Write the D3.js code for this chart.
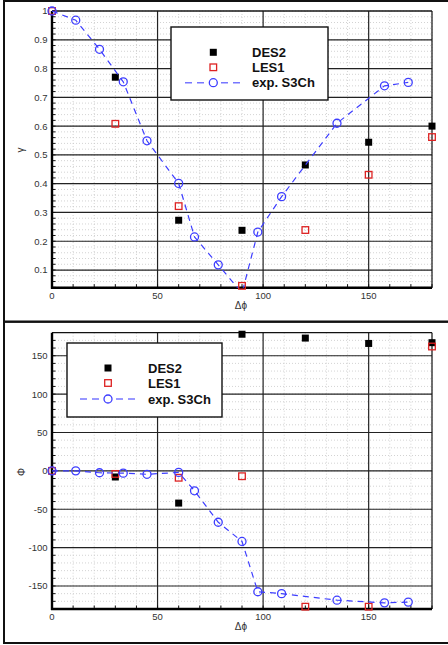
<!DOCTYPE html>
<html>
<head>
<meta charset="utf-8">
<script src="https://cdn.jsdelivr.net/npm/d3@7"></script>
<style>
  html, body { margin: 0; padding: 0; background: #fff; }
  svg { display: block; }
  text { font-family: "Liberation Sans", Arial, sans-serif; }
</style>
</head>
<body>
<svg id="chart" width="448" height="645"></svg>
<script>
// Phase difference sweep (degrees)
const dphiDES2 = [30, 60, 90, 120, 150, 180];
const dphiLES1 = [0, 30, 60, 90, 120, 150, 180];
const dphiExp = [0, 11.25, 22.5, 33.75, 45, 60, 67.5, 78.75, 90, 97.5, 108.75, 135, 157.5, 168.75];

// Amplitude ratio gamma
const gammaDES2 = [0.77, 0.273, 0.238, 0.465, 0.544, 0.60];
const gammaLES1 = [1.0, 0.608, 0.322, 0.045, 0.239, 0.431, 0.562];
const gammaExp = [1.0, 0.968, 0.867, 0.754, 0.549, 0.401, 0.215, 0.118, 0.02, 0.232, 0.355, 0.610, 0.740, 0.752];

// Phase shift Phi (degrees)
const phiDES2 = [-8, -42, 178, 173, 166, 167];
const phiLES1 = [0, -4, -9, -7, -177, -177, 162];
const phiExp = [0, 0, -2.5, -3, -4.5, -2, -26, -67, -92, -157.5, -160, -168.5, -172, -171];

// Axis ticks
const xMajor = [0, 50, 100, 150];
const xMinor = d3.range(0, 181, 10);
const gammaMajor = [0.1, 0.2, 0.3, 0.4, 0.5, 0.6, 0.7, 0.8, 0.9, 1.0];
const gammaMinor = d3.range(0.04, 1.001, 0.02);
const phiMajor = [-150, -100, -50, 0, 50, 100, 150];
const phiMinor = d3.range(-180, 181, 10);
const gammaRange = [0.0386, 1.0];
const phiRange = [-180, 180];

const seriesNames = ["DES2", "LES1", "exp. S3Ch"];

const svg = d3.select("#chart");
const BLUE = "#3d3dff", RED = "#dd2222";

function drawPanel(cfg) {
  const g = svg.append("g");
  const x = d3.scaleLinear().domain([0, 180]).range([cfg.left, cfg.right]);
  const y = d3.scaleLinear().domain(cfg.domain).range([cfg.bottom, cfg.top]);

  // outer frame
  g.append("rect").attr("x", 4).attr("y", cfg.frameTop).attr("width", 470)
    .attr("height", cfg.frameBottom - cfg.frameTop)
    .attr("fill", "none").attr("stroke", "#111").attr("stroke-width", 2);

  // minor dotted grid
  g.append("g").selectAll("line").data(xMinor.filter(v => v % 50 !== 0)).join("line")
    .attr("x1", d => x(d)).attr("x2", d => x(d)).attr("y1", cfg.top).attr("y2", cfg.bottom)
    .attr("stroke", "#c8c8c8").attr("stroke-width", 0.8).attr("stroke-dasharray", "1,2");
  g.append("g").selectAll("line").data(cfg.minor).join("line")
    .attr("x1", cfg.left).attr("x2", cfg.right).attr("y1", d => y(d)).attr("y2", d => y(d))
    .attr("stroke", "#c8c8c8").attr("stroke-width", 0.8).attr("stroke-dasharray", "1,2");

  // major grid
  g.append("g").selectAll("line").data(xMajor.filter(v => v > 0)).join("line")
    .attr("x1", d => x(d)).attr("x2", d => x(d)).attr("y1", cfg.top).attr("y2", cfg.bottom)
    .attr("stroke", "#222").attr("stroke-width", 1.2);
  g.append("g").selectAll("line").data(cfg.major).join("line")
    .attr("x1", cfg.left).attr("x2", cfg.right).attr("y1", d => y(d)).attr("y2", d => y(d))
    .attr("stroke", "#222").attr("stroke-width", 1.2);

  // plot box: thin top/right, heavy left/bottom
  g.append("line").attr("x1", cfg.left).attr("x2", cfg.right).attr("y1", cfg.top).attr("y2", cfg.top)
    .attr("stroke", "#111").attr("stroke-width", 1.2);
  g.append("line").attr("x1", cfg.right).attr("x2", cfg.right).attr("y1", cfg.top).attr("y2", cfg.bottom)
    .attr("stroke", "#111").attr("stroke-width", 1.2);

  // inward minor ticks
  g.append("g").selectAll("line").data(xMinor).join("line")
    .attr("x1", d => x(d)).attr("x2", d => x(d)).attr("y1", cfg.bottom).attr("y2", cfg.bottom - 3.5)
    .attr("stroke", "#111").attr("stroke-width", 1);
  g.append("g").selectAll("line").data(cfg.minor).join("line")
    .attr("x1", cfg.left).attr("x2", cfg.left + 3.5).attr("y1", d => y(d)).attr("y2", d => y(d))
    .attr("stroke", "#111").attr("stroke-width", 1);

  g.append("line").attr("x1", cfg.left).attr("x2", cfg.left).attr("y1", cfg.top).attr("y2", cfg.bottom + 1)
    .attr("stroke", "#000").attr("stroke-width", 2.4);
  g.append("line").attr("x1", cfg.left - 1).attr("x2", cfg.right).attr("y1", cfg.bottom).attr("y2", cfg.bottom)
    .attr("stroke", "#000").attr("stroke-width", 2.4);

  // tick labels
  g.append("g").selectAll("text").data(xMajor).join("text")
    .attr("x", d => x(d)).attr("y", cfg.bottom + 11)
    .attr("text-anchor", "middle").attr("font-size", 9.5).attr("fill", "#333")
    .text(d => d);
  g.append("g").selectAll("text").data(cfg.major).join("text")
    .attr("x", cfg.left - 4.5).attr("y", d => y(d) + 3.4)
    .attr("text-anchor", "end").attr("font-size", 9.5).attr("fill", "#333")
    .text(cfg.fmt);

  // axis titles
  g.append("text").attr("x", 241).attr("y", cfg.bottom + 21)
    .attr("text-anchor", "middle").attr("font-size", 10).attr("fill", "#333").text("Δϕ");
  g.append("text").attr("transform", `translate(${cfg.ytitleX},${cfg.ytitleY}) rotate(-90)`)
    .attr("text-anchor", "middle").attr("font-size", 10).attr("fill", "#333").text(cfg.ytitle);

  // legend
  const L = cfg.legend;
  const lg = g.append("g");
  lg.append("rect").attr("x", L.x0).attr("y", L.y0).attr("width", L.x1 - L.x0).attr("height", L.y1 - L.y0)
    .attr("fill", "#fff").attr("stroke", "#111").attr("stroke-width", 1.4);
  const rows = lg.selectAll("g.row").data(seriesNames).join("g")
    .attr("transform", (d, i) => `translate(0,${L.rows[i]})`);
  rows.append("text").attr("x", L.tx).attr("y", 4.6).attr("font-size", 13)
    .attr("font-weight", "bold").attr("fill", "#111").text(d => d);
  rows.filter((d, i) => i === 0).append("rect").attr("x", L.mx - 3.5).attr("y", -3.5)
    .attr("width", 7).attr("height", 7).attr("fill", "#000");
  rows.filter((d, i) => i === 1).append("rect").attr("x", L.mx - 3.3).attr("y", -3.3)
    .attr("width", 6.6).attr("height", 6.6).attr("fill", "none").attr("stroke", RED).attr("stroke-width", 1.3);
  const r3 = rows.filter((d, i) => i === 2);
  r3.append("line").attr("x1", L.lx0).attr("x2", L.lx1).attr("y1", 0).attr("y2", 0)
    .attr("stroke", "#7777ff").attr("stroke-width", 1.5).attr("stroke-dasharray", "7,5");
  r3.append("circle").attr("cx", L.mx).attr("cy", 0).attr("r", 4)
    .attr("fill", "#fff").attr("stroke", BLUE).attr("stroke-width", 1.3);

  // data marks
  const clipId = "clip" + cfg.id;
  svg.append("clipPath").attr("id", clipId).append("rect")
    .attr("x", cfg.left - 8).attr("y", cfg.top - 8)
    .attr("width", cfg.right - cfg.left + 16).attr("height", cfg.bottom - cfg.top + 8 + cfg.clipExtra);

  const dm = g.append("g");
  dm.selectAll("rect.des").data(d3.zip(dphiDES2, cfg.des)).join("rect").attr("class", "des")
    .attr("x", d => x(d[0]) - 3.5).attr("y", d => y(d[1]) - 3.5)
    .attr("width", 7).attr("height", 7).attr("fill", "#000");
  dm.selectAll("rect.les").data(d3.zip(dphiLES1, cfg.les)).join("rect").attr("class", "les")
    .attr("x", d => x(d[0]) - 3.3).attr("y", d => y(d[1]) - 3.3)
    .attr("width", 6.6).attr("height", 6.6).attr("fill", "none")
    .attr("stroke", RED).attr("stroke-width", 1.3);

  const ex = dm.append("g").attr("clip-path", `url(#${clipId})`);
  const pts = d3.zip(dphiExp, cfg.exp);
  ex.append("path").datum(pts)
    .attr("d", d3.line().x(d => x(d[0])).y(d => y(d[1])))
    .attr("fill", "none").attr("stroke", BLUE).attr("stroke-width", 1.2)
    .attr("stroke-dasharray", "6,5");
  ex.selectAll("circle").data(pts).join("circle")
    .attr("cx", d => x(d[0])).attr("cy", d => y(d[1])).attr("r", 4)
    .attr("fill", "none").attr("stroke", BLUE).attr("stroke-width", 1.3);
}

drawPanel({
  id: "g", left: 52, right: 432, top: 11, bottom: 287.7,
  frameTop: 1, frameBottom: 321.7,
  domain: gammaRange, major: gammaMajor, minor: gammaMinor,
  fmt: d => d3.format("~g")(d),
  ytitle: "γ", ytitleX: 24, ytitleY: 150,
  des: gammaDES2, les: gammaLES1, exp: gammaExp, clipExtra: 0,
  legend: { x0: 171, x1: 328, y0: 27, y1: 100, rows: [52.3, 67.3, 82.7], mx: 213.3, tx: 252, lx0: 185, lx1: 243 }
});

drawPanel({
  id: "p", left: 52, right: 432, top: 332.7, bottom: 609,
  frameTop: 321.7, frameBottom: 643,
  domain: phiRange, major: phiMajor, minor: phiMinor.filter(v => v > -180 && v < 180),
  fmt: d => d,
  ytitle: "Φ", ytitleX: 25, ytitleY: 472,
  des: phiDES2, les: phiLES1, exp: phiExp, clipExtra: 8,
  legend: { x0: 67, x1: 222, y0: 343, y1: 417, rows: [368, 383, 399], mx: 108, tx: 148, lx0: 80, lx1: 137 }
});
</script>
</body>
</html>
